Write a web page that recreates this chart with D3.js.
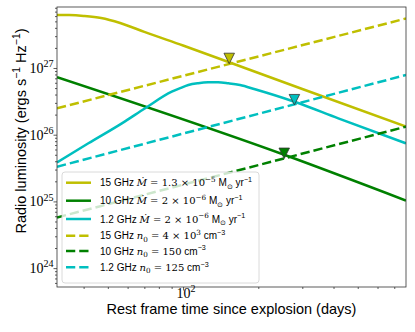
<!DOCTYPE html>
<html lang="en">
<head>
<meta charset="UTF-8">
<script src="https://d3js.org/d3.v7.min.js"></script>
<style>
body { margin: 0; background: #fff; }
</style>
</head>
<body>
<div class="canva"></div>
<script>
// light curves (days, erg/s/Hz)
const mdotDays15 = [31.3, 35, 40, 47, 56, 70, 100, 151, 300, 780];
const mdotLum15 = [6.24e27, 6.21e27, 6.03e27, 5.62e27, 4.73e27, 3.47e27, 2.17e27, 1.24e27, 4.84e26, 1.32e26];
const mdotDays10 = [31.3, 254, 780];
const mdotLum10 = [7.28e26, 5.0e25, 1.03e25];
const mdotDays12 = [31.3, 41.8, 56.9, 70.5, 90.1, 97.3, 105, 115, 126, 138, 152, 169, 194, 279, 418, 780];
const mdotLum12 = [3.83e25, 7.43e25, 1.48e26, 2.49e26, 4.41e26, 4.98e26, 5.56e26, 5.92e26, 6.1e26, 6.12e26, 5.9e26, 5.56e26, 4.8e26, 3.12e26, 1.76e26, 7.43e25];

const csmDays = [31.3, 780];
const csmLum15 = [2.49e26, 5.52e27];
const csmLum10 = [5.74e24, 1.32e26];
const csmLum12 = [3.31e25, 7.85e26];

// triangles
const peakDays = [153, 254, 279];
const peakLum = [1.39e27, 5.26e25, 3.35e26];

const yTicks = [1e24, 1e25, 1e26, 1e27];
const xTicks = [100];

const yellow = "#bfbf00", green = "#008000", cyan = "#00bfbf";
const peakColors = [yellow, green, cyan];

const width = 415, height = 332;
const margin = {top: 7, right: 9, bottom: 45, left: 57};

const svg = d3.select(".canva").append("svg")
  .attr("width", width)
  .attr("height", height);

const x = d3.scaleLog().domain([31.3, 780]).range([margin.left, width - margin.right]);
const y = d3.scaleLog().domain([5.21e23, 8.21e27]).range([height - margin.bottom, margin.top]);

svg.append("clipPath").attr("id", "plotclip")
  .append("rect")
  .attr("x", margin.left).attr("y", margin.top)
  .attr("width", x.range()[1] - x.range()[0])
  .attr("height", y.range()[0] - y.range()[1]);

const serif = "'Liberation Serif', 'DejaVu Serif', serif";
const mathf = "'DejaVu Serif', serif";
const sans = "'Liberation Sans', Arial, sans-serif";

// text with super/subscripts
function rich(textSel, parts, size) {
  let cur = 0;
  parts.forEach(p => {
    const target = p.s === "sup" ? -size * 0.42 : p.s === "sub" ? size * 0.25 : 0;
    textSel.append("tspan")
      .attr("dy", target - cur)
      .style("font-family", p.f === "serif" ? serif : p.f === "math" ? mathf : sans)
      .style("font-style", p.i ? "italic" : "normal")
      .style("font-size", (p.s ? size * 0.72 : size) + "px")
      .text(p.t);
    cur = target;
  });
}

// minor ticks
const yMinor = [];
for (let n = 23; n <= 27; n++) {
  for (let k = 2; k <= 9; k++) {
    const v = k * Math.pow(10, n);
    if (v > y.domain()[0] && v < y.domain()[1]) yMinor.push(v);
  }
}
const xMinor = [];
[10, 100].forEach(b => {
  for (let k = 2; k <= 9; k++) {
    const v = k * b;
    if (v > x.domain()[0] && v < x.domain()[1] && v !== 100) xMinor.push(v);
  }
});

const tickColor = "#333";

const gy = svg.append("g").attr("transform", `translate(${margin.left},0)`);
gy.call(d3.axisLeft(y).tickValues(yTicks).tickSize(3.5).tickFormat(() => ""));
gy.append("g").call(d3.axisLeft(y).tickValues(yMinor).tickSize(2).tickFormat(() => ""));
gy.selectAll(".domain").remove();
gy.selectAll("line").attr("stroke", tickColor).attr("stroke-width", 0.8);

yTicks.forEach(v => {
  const t = svg.append("text")
    .attr("x", margin.left - 3.5)
    .attr("y", y(v) + 5)
    .attr("text-anchor", "end")
    .attr("fill", "#000");
  rich(t, [{t: "10", f: "serif"}, {t: String(Math.round(Math.log10(v))), f: "serif", s: "sup"}], 14);
});

const gx = svg.append("g").attr("transform", `translate(0,${height - margin.bottom})`);
gx.call(d3.axisBottom(x).tickValues(xTicks).tickSize(3.5).tickFormat(() => ""));
gx.append("g").call(d3.axisBottom(x).tickValues(xMinor).tickSize(2).tickFormat(() => ""));
gx.selectAll(".domain").remove();
gx.selectAll("line").attr("stroke", tickColor).attr("stroke-width", 0.8);

xTicks.forEach(v => {
  const t = svg.append("text")
    .attr("x", x(v) + 3)
    .attr("y", height - margin.bottom + 11)
    .attr("text-anchor", "middle")
    .attr("fill", "#000");
  rich(t, [{t: "10", f: "serif"}, {t: String(Math.round(Math.log10(v))), f: "serif", s: "sup"}], 14);
});

// curves
const line = d3.line()
  .x(d => x(d[0]))
  .y(d => y(d[1]))
  .curve(d3.curveMonotoneX);

const series = [
  {days: mdotDays15, lum: mdotLum15, color: yellow, dash: null},
  {days: mdotDays10, lum: mdotLum10, color: green, dash: null},
  {days: mdotDays12, lum: mdotLum12, color: cyan, dash: null},
  {days: csmDays, lum: csmLum15, color: yellow, dash: "9.25,4"},
  {days: csmDays, lum: csmLum10, color: green, dash: "9.25,4"},
  {days: csmDays, lum: csmLum12, color: cyan, dash: "9.25,4"}
];

const plot = svg.append("g").attr("clip-path", "url(#plotclip)");
series.forEach(s => {
  plot.append("path")
    .datum(d3.zip(s.days, s.lum))
    .attr("d", line)
    .attr("fill", "none")
    .attr("stroke", s.color)
    .attr("stroke-width", 2.5)
    .attr("stroke-dasharray", s.dash);
});

// downward triangles
const ms = 10.5;
svg.selectAll(".peak")
  .data(d3.zip(peakDays, peakLum, peakColors))
  .join("path")
  .attr("class", "peak")
  .attr("transform", d => `translate(${x(d[0])},${y(d[1])})`)
  .attr("d", `M${-ms / 2},${-ms / 2}L${ms / 2},${-ms / 2}L0,${ms / 2}Z`)
  .attr("fill", d => d[2])
  .attr("stroke", "#333")
  .attr("stroke-width", 0.8);

// frame
svg.append("rect")
  .attr("x", margin.left).attr("y", margin.top)
  .attr("width", x.range()[1] - x.range()[0])
  .attr("height", y.range()[0] - y.range()[1])
  .attr("fill", "none")
  .attr("stroke", "#333")
  .attr("stroke-width", 0.8);

// legend
const legend = svg.append("g");
legend.append("rect")
  .attr("x", 62).attr("y", 172)
  .attr("width", 197).attr("height", 111)
  .attr("rx", 3).attr("ry", 3)
  .attr("fill", "rgba(255,255,255,0.8)")
  .attr("stroke", "#d0d0d0")
  .attr("stroke-width", 0.8);

const mdot = "\u1E40";
const msun = [{t: " M"}, {t: "\u2299", s: "sub"}, {t: " yr"}, {t: "\u22121", s: "sup"}];
const cm3 = [{t: " cm"}, {t: "\u22123", s: "sup"}];
const legendRows = [
  [{t: "15 GHz "}, {t: mdot, f: "math", i: true}, {t: " = 1.3 \u00D7 10", f: "math"}, {t: "\u22125", f: "math", s: "sup"}].concat(msun),
  [{t: "10 GHz "}, {t: mdot, f: "math", i: true}, {t: " = 2 \u00D7 10", f: "math"}, {t: "\u22126", f: "math", s: "sup"}].concat(msun),
  [{t: "1.2 GHz "}, {t: mdot, f: "math", i: true}, {t: " = 2 \u00D7 10", f: "math"}, {t: "\u22126", f: "math", s: "sup"}].concat(msun),
  [{t: "15 GHz "}, {t: "n", f: "math", i: true}, {t: "0", f: "math", s: "sub"}, {t: " = 4 \u00D7 10", f: "math"}, {t: "3", f: "math", s: "sup"}].concat(cm3),
  [{t: "10 GHz "}, {t: "n", f: "math", i: true}, {t: "0", f: "math", s: "sub"}, {t: " = 150", f: "math"}].concat(cm3),
  [{t: "1.2 GHz "}, {t: "n", f: "math", i: true}, {t: "0", f: "math", s: "sub"}, {t: " = 125", f: "math"}].concat(cm3)
];
const rowY = [182.7, 200.7, 219, 235.7, 251, 267.3];

series.forEach((s, i) => {
  legend.append("line")
    .attr("x1", 66).attr("x2", 91)
    .attr("y1", rowY[i]).attr("y2", rowY[i])
    .attr("stroke", s.color)
    .attr("stroke-width", 2.5)
    .attr("stroke-dasharray", s.dash);
  const t = legend.append("text")
    .attr("x", 100)
    .attr("y", rowY[i] + 3.5)
    .attr("fill", "#000");
  rich(t, legendRows[i], 10);
});

// axis labels
svg.append("text")
  .attr("x", (x.range()[0] + x.range()[1]) / 2)
  .attr("y", 314)
  .attr("text-anchor", "middle")
  .style("font-family", sans)
  .style("font-size", "14.5px")
  .text("Rest frame time since explosion (days)");

const yl = svg.append("text")
  .attr("transform", "translate(26,131) rotate(-90)")
  .attr("text-anchor", "middle")
  .attr("fill", "#000");
rich(yl, [{t: "Radio luminosity (ergs s"}, {t: "\u22121", s: "sup"}, {t: " Hz"}, {t: "\u22121", s: "sup"}, {t: ")"}], 14.5);
</script>
</body>
</html>
